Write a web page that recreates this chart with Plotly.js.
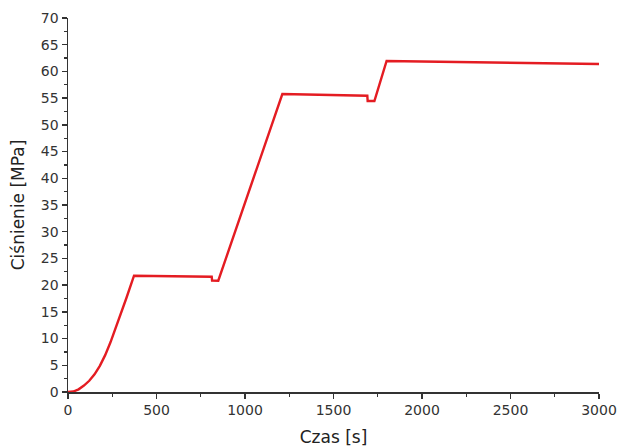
<!DOCTYPE html>
<html>
<head>
<meta charset="utf-8">
<script src="https://cdn.plot.ly/plotly-3.0.1.min.js"></script>
<style>html,body{margin:0;padding:0;background:#fff;}#chart{width:618px;height:448px;}</style>
</head>
<body>
<div id="chart"></div>
<script>
// Time [s]
var czas = [0, 30, 60, 90, 120, 150, 180, 210, 240, 270, 300, 330, 373,
            600, 812, 814, 849, 1211, 1450, 1691, 1693, 1731, 1800, 2200, 2600, 3000];
// Pressure [MPa]
var cisnienie = [0, 0.08, 0.5, 1.2, 2.1, 3.3, 4.9, 6.9, 9.3, 12.0, 14.8, 17.6, 21.77,
                 21.68, 21.58, 20.85, 20.83, 55.77, 55.62, 55.46, 54.46, 54.46, 61.95, 61.8, 61.6, 61.39];

var xTickVals = [0, 500, 1000, 1500, 2000, 2500, 3000];
var yTickVals = [0, 5, 10, 15, 20, 25, 30, 35, 40, 45, 50, 55, 60, 65, 70];

var trace = {
  x: czas, y: cisnienie, type: 'scatter', mode: 'lines',
  line: {color: 'rgb(228,28,34)', width: 2.4},
  hoverinfo: 'skip'
};

var fontFam = 'DejaVu Sans, Arial, sans-serif';

var axisCommon = {
  showgrid: false, zeroline: false, showline: true,
  linecolor: '#333', linewidth: 1.5,
  ticks: 'outside', ticklen: 5, tickwidth: 1.3, tickcolor: '#333',
  tickfont: {family: fontFam, size: 14, color: '#333'},
  mirror: false
};

var layout = {
  width: 618, height: 448,
  margin: {l: 68, r: 19, t: 18, b: 56},
  paper_bgcolor: '#fff', plot_bgcolor: '#fff',
  showlegend: false,
  xaxis: Object.assign({}, axisCommon, {
    range: [0, 3000], tickvals: xTickVals,
    minor: {dtick: 250, tick0: 0, ticks: 'outside', ticklen: 3, tickwidth: 1.2, tickcolor: '#333'},
    title: {text: 'Czas [s]', standoff: 14,
      font: {family: fontFam, size: 17, color: '#222'}}
  }),
  yaxis: Object.assign({}, axisCommon, {
    range: [0, 70], tickvals: yTickVals,
    minor: {dtick: 2.5, tick0: 0, ticks: 'outside', ticklen: 3, tickwidth: 1.2, tickcolor: '#333'},
    title: {text: 'Ciśnienie [MPa]', standoff: 12,
      font: {family: fontFam, size: 17, color: '#222'}}
  })
};

Plotly.newPlot('chart', [trace], layout, {displayModeBar: false, staticPlot: true});
</script>
</body>
</html>
